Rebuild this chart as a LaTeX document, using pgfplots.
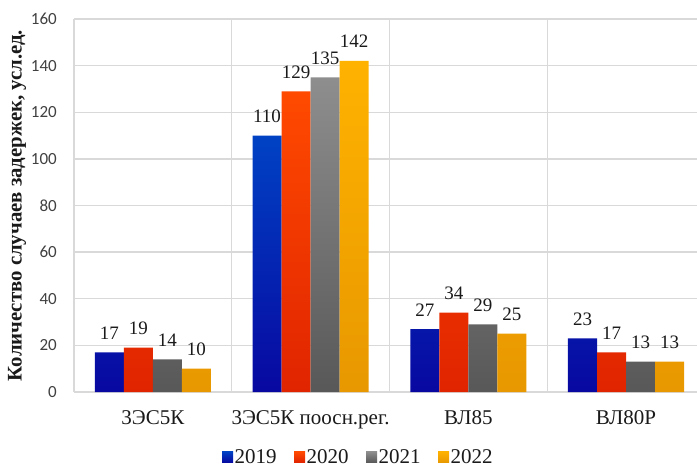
\documentclass[border=0pt]{standalone}
\usepackage{fontspec}
\setmainfont{Liberation Serif}
\newfontfamily\tickfont{Carlito}
\usepackage{pgfplots}
\pgfplotsset{compat=1.18}
\definecolor{gridc}{HTML}{D9D9D9}
\definecolor{bTop}{HTML}{0042C4}
\definecolor{bBot}{HTML}{0808A0}
\definecolor{rTop}{HTML}{FF4A00}
\definecolor{rBot}{HTML}{E02400}
\definecolor{gTop}{HTML}{8E8E8E}
\definecolor{gBot}{HTML}{585858}
\definecolor{yTop}{HTML}{FFB200}
\definecolor{yBot}{HTML}{E89800}
\definecolor{txt}{HTML}{1A1A1A}
\definecolor{ticktxt}{HTML}{404040}
\begin{document}
\begin{tikzpicture}
\begin{axis}[
  scale only axis, width=623bp, height=373bp,
  xmin=-0.5, xmax=3.45, ymin=0, ymax=160,
  ytick={0,20,...,160}, ymajorgrids,
  xtick={0,1,2,3},
  xticklabels={3ЭС5К, 3ЭС5К поосн.рег., ВЛ85, ВЛ80Р},
  minor xtick={-0.5,0.5,1.5,2.5}, xminorgrids,
  grid style={draw=gridc, line width=1.3bp},
  minor grid style={draw=gridc, line width=1.3bp},
  axis line style={draw=none},
  major tick length=0pt, minor tick length=0pt,
  /pgf/number format/assume math mode=true,
  yticklabel style={font=\tickfont\fontsize{17bp}{19bp}\selectfont, text=ticktxt, inner sep=0pt, anchor=east, xshift=-17bp},
  xticklabel style={font=\fontsize{21bp}{23bp}\selectfont, text=txt, inner sep=0pt, anchor=base, yshift=-32bp},
  ylabel={Количество случаев задержек, усл.ед.},
  ylabel style={font=\bfseries\fontsize{20.8bp}{22bp}\selectfont, text=txt, at={(axis description cs:-0.0915,0.5)}, anchor=center},
  ybar=0pt, bar width=0.184,
  nodes near coords,
  every node near coord/.append style={font=\fontsize{19bp}{21bp}\selectfont, text=txt, inner sep=0pt, anchor=base, yshift=13bp},
  legend columns=4,
  legend image code/.code={\fill[#1] (0bp,-5.5bp) rectangle (11bp,5.5bp);},
  legend style={at={(0.456,-0.1745)}, anchor=center, draw=none, fill=none,
    font=\fontsize{21bp}{23bp}\selectfont, text=txt,
    nodes={inner sep=1.5bp},
    /tikz/every even column/.append style={column sep=16bp}},
]
\addplot[draw=none, top color=bTop, bottom color=bBot] coordinates {(0,17) (1,110) (2,27) (3,23)};
\addplot[draw=none, top color=rTop, bottom color=rBot] coordinates {(0,19) (1,129) (2,34) (3,17)};
\addplot[draw=none, top color=gTop, bottom color=gBot] coordinates {(0,14) (1,135) (2,29) (3,13)};
\addplot[draw=none, top color=yTop, bottom color=yBot] coordinates {(0,10) (1,142) (2,25) (3,13)};
\legend{2019,2020,2021,2022}
\end{axis}
\pgfresetboundingbox
\path (-74bp,-75bp) rectangle (623bp,392bp);
\end{tikzpicture}
\end{document}
